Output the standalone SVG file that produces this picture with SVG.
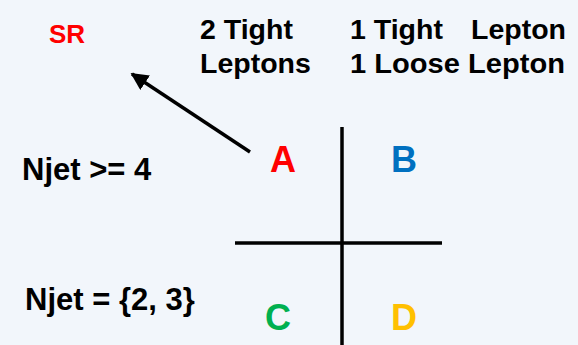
<svg xmlns="http://www.w3.org/2000/svg" width="578" height="345" viewBox="0 0 578 345">
<style>
text{font-family:"Liberation Sans",Arial,sans-serif;font-weight:bold}
.hd{font-size:28.5px;fill:#000}
.lb{font-size:31px;fill:#000}
.q{font-size:36px}
.ln{stroke:#000;stroke-width:3.5;fill:none}
</style>
<defs>
<marker id="ah" viewBox="0 0 10 10" refX="9" refY="5" markerWidth="5" markerHeight="5" orient="auto" markerUnits="strokeWidth">
<path d="M0,0 L10,5 L0,10 z" fill="#000"/>
</marker>
</defs>
<rect width="578" height="345" fill="#f2f6fb"/>
<g id="sr"><text x="49" y="43" font-size="26" fill="#ff0000">SR</text></g>
<g id="hdr-2tight"><text class="hd" x="200" y="38.5">2 Tight</text><text class="hd" x="200" y="73">Leptons</text></g>
<g id="hdr-1tight"><text class="hd" x="350" y="38.5">1 Tight<tspan x="471">Lepton</tspan></text><text class="hd" x="350" y="73" textLength="215" lengthAdjust="spacingAndGlyphs">1 Loose Lepton</text></g>
<g id="njet4"><text class="lb" x="22" y="180">Njet &gt;= 4</text></g>
<g id="njet23"><text class="lb" x="25" y="310">Njet = {2, 3}</text></g>
<g id="A"><text class="q" x="270" y="172" fill="#ff0000">A</text></g>
<g id="B"><text class="q" x="391" y="172" fill="#0070c0">B</text></g>
<g id="C"><text class="q" x="265" y="330" fill="#00b050">C</text></g>
<g id="D"><text class="q" x="391" y="330" fill="#ffc000">D</text></g>
<g id="connectors">
<line class="ln" x1="342" y1="127" x2="342" y2="345"/>
<line class="ln" x1="235" y1="243" x2="442" y2="243"/>
<line class="ln" x1="250" y1="152" x2="132" y2="74" marker-end="url(#ah)"/>
</g>
</svg>
